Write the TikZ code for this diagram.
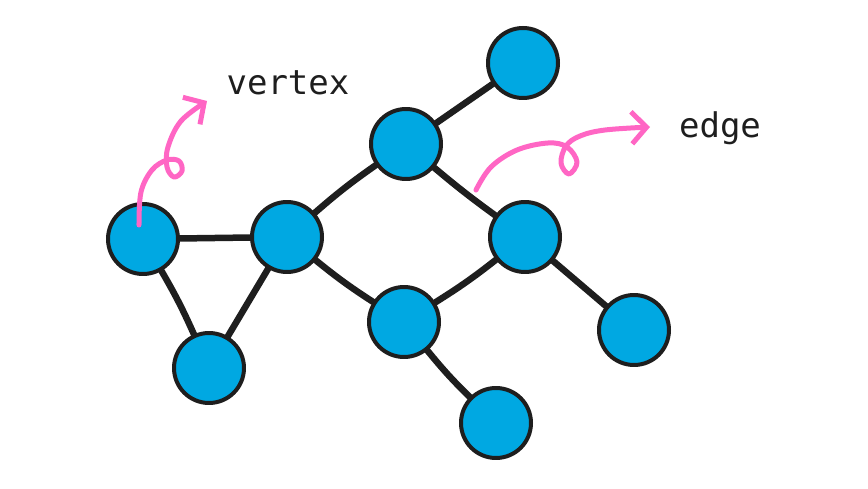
\documentclass[tikz,border=0pt]{standalone}
\usepackage{fontspec}
\setmonofont{DejaVu Sans Mono}
\usetikzlibrary{arrows.meta}
\definecolor{Ink}{RGB}{30,30,30}
\definecolor{Nfill}{RGB}{0,168,226}
\definecolor{Pink}{RGB}{255,102,196}

\begin{document}
\begin{tikzpicture}[x=1pt,y=-1pt,line cap=round,line join=round,
  vtx/.style={circle,draw=Ink,line width=4pt,fill=Nfill,minimum size=70pt,inner sep=0pt},
  link/.style={draw=Ink,line width=6.5pt},
  note/.style={draw=Pink,line width=5pt,-{Straight Barb[length=15pt,width=32pt,line width=5pt]}},
  lbl/.style={font=\ttfamily\fontsize{34}{40}\selectfont,text=Ink,anchor=base,inner sep=0pt}]
\path[use as bounding box] (0,0) rectangle (868,489);
% vertices
\node[vtx] (a) at (143,239) {};
\node[vtx] (b) at (287,237) {};
\node[vtx] (c) at (209,368) {};
\node[vtx] (d) at (406,144) {};
\node[vtx] (e) at (523,63) {};
\node[vtx] (f) at (525,237) {};
\node[vtx] (g) at (404,322) {};
\node[vtx] (h) at (496,423) {};
\node[vtx] (i) at (634,330) {};
% edges
\draw[link] (a) to[bend left=3] (c);
\draw[link] (a) -- (b);
\draw[link] (b) -- (c);
\draw[link] (b) to[bend left=3] (d);
\draw[link] (b) to[bend right=3] (g);
\draw[link] (d) -- (e);
\draw[link] (d) to[bend right=2] (f);
\draw[link] (f) to[bend left=3] (g);
\draw[link] (f) -- (i);
\draw[link] (g) to[bend right=3] (h);
% labels
\node[lbl] (vlbl) at (288,95) {vertex};
\node[lbl] (elbl) at (720,138) {edge};
% pointers
\coordinate (vfrom) at (139,225);
\coordinate (efrom) at (476,190);
\draw[note] plot[smooth,tension=0.6] coordinates {(vfrom) (141,192) (152,170) (167,160) (179,161) (182,171) (174,177) (167,167) (168,147) (181,121) (207,101)};
\draw[note] plot[smooth,tension=0.6] coordinates {(efrom) (491,167) (517,150) (548,143) (567,147) (577,162) (569,174) (561,163) (566,146) (580,136) (605,130) (650,127)};
\end{tikzpicture}
\end{document}
